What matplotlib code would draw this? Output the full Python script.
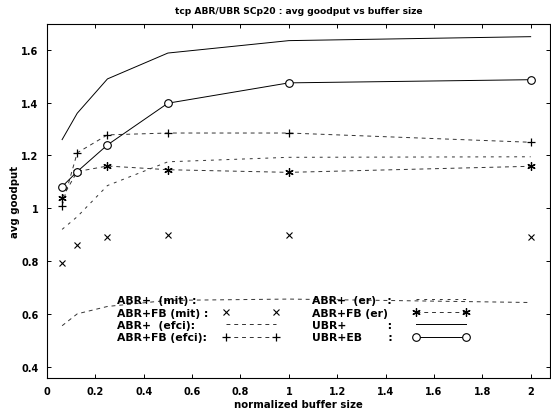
import matplotlib
matplotlib.use("Agg")
import matplotlib.pyplot as plt
from matplotlib.lines import Line2D

plt.rcParams['font.family'] = ['DejaVu Sans']
plt.rcParams['font.weight'] = 'bold'
plt.rcParams['font.size'] = 7

buffer_size = [0.0625, 0.125, 0.25, 0.5, 1.0, 2.0]

abr_mit = []  # ABR+ (mit): no visible curve
abrfb_mit = [0.793, 0.861, 0.893, 0.900, 0.899, 0.890]
abr_efci = [0.555, 0.600, 0.628, 0.651, 0.656, 0.643]
abrfb_efci = [1.010, 1.210, 1.278, 1.285, 1.285, 1.250]
abr_er = [0.920, 0.968, 1.086, 1.176, 1.193, 1.195]
abrfb_er = [1.039, 1.139, 1.160, 1.146, 1.136, 1.159]
ubr = [1.260, 1.360, 1.490, 1.588, 1.635, 1.650]
ubr_eb = [1.082, 1.139, 1.240, 1.398, 1.475, 1.487]

labels = ["ABR+  (mit) :", "ABR+FB (mit) :", "ABR+  (efci):", "ABR+FB (efci):",
          "ABR+  (er)   :", "ABR+FB (er)", "UBR+           :", "UBR+EB       :"]

title = "tcp ABR/UBR SCp20 : avg goodput vs buffer size"
xlabel = "normalized buffer size"
ylabel = "avg goodput"
xticks = [0, 0.2, 0.4, 0.6, 0.8, 1, 1.2, 1.4, 1.6, 1.8, 2]
yticks = [0.4, 0.6, 0.8, 1, 1.2, 1.4, 1.6]

fig = plt.figure(figsize=(5.51, 4.14), dpi=100)
ax = fig.add_axes([47/551, 1-379/414, 503/551, 354/414])

lw = 0.7
dash = (0, (4, 4))
h_mit = Line2D([], [], linestyle='none', color='k')
h_fbmit, = ax.plot(buffer_size, abrfb_mit, linestyle='none', marker='x', ms=5, mew=0.8, color='k')
h_efci, = ax.plot(buffer_size, abr_efci, linestyle=dash, lw=lw, color='#333333')
h_fbefci, = ax.plot(buffer_size, abrfb_efci, linestyle=dash, lw=lw, color='#333333',
                    marker='+', ms=6, mew=0.9, mec='k')
h_er, = ax.plot(buffer_size, abr_er, linestyle=(0, (3, 5)), lw=lw, color='#333333')
h_fber, = ax.plot(buffer_size, abrfb_er, linestyle=dash, lw=lw, color='#333333',
                  marker=(6, 2, 0), ms=6, mew=0.9, mec='k')
h_ubr, = ax.plot(buffer_size, ubr, linestyle='-', lw=lw, color='k')
h_ubreb, = ax.plot(buffer_size, ubr_eb, linestyle='-', lw=lw, color='k',
                   marker='o', ms=5.5, mfc='white', mec='k', mew=0.8)

leg_fs = 7.8
handletextpad = 1.38
col_extra_px = [0, 5]
handles = [h_mit, h_fbmit, h_efci, h_fbefci, h_er, h_fber, h_ubr, h_ubreb]
leg = ax.legend(handles, labels, ncol=2, frameon=False, markerfirst=False,
                loc='upper left', bbox_to_anchor=(0.139, 0.234), borderpad=0,
                borderaxespad=0, handlelength=5.2, handletextpad=handletextpad,
                columnspacing=3.0, labelspacing=0.22, numpoints=2,
                prop={'size': leg_fs, 'weight': 'bold'})

ax.set_xlim(0, 2.08)
ax.set_ylim(0.357, 1.698)
ax.set_xticks(xticks)
ax.set_xticklabels([('%g' % v) for v in xticks])
ax.set_yticks(yticks)
ax.set_yticklabels([('%g' % v) for v in yticks])
ax.tick_params(direction='in', top=True, right=True, length=3, width=0.7, labelsize=7, pad=6)
for s in ax.spines.values():
    s.set_linewidth(0.8)

ax.set_title(title, fontsize=6.6, fontweight='bold', pad=8)
ax.set_xlabel(xlabel, fontsize=7.3, fontweight='bold', labelpad=2)
ax.set_ylabel(ylabel, fontsize=7.3, fontweight='bold', labelpad=1)

# left-align legend texts while keeping the line samples aligned in columns
fig.canvas.draw()
r = fig.canvas.get_renderer()
base_sep = handletextpad * leg_fs
for col, extra in zip(leg._legend_handle_box.get_children(), col_extra_px):
    col.align = 'left'
    items = col.get_children()
    widths = [it.get_children()[0].get_bbox(r).width for it in items]
    wmax = max(widths)
    for it, w in zip(items, widths):
        it.sep = base_sep + (wmax - w + extra) * 72.0 / fig.dpi

fig.savefig("out.png", dpi=100)
